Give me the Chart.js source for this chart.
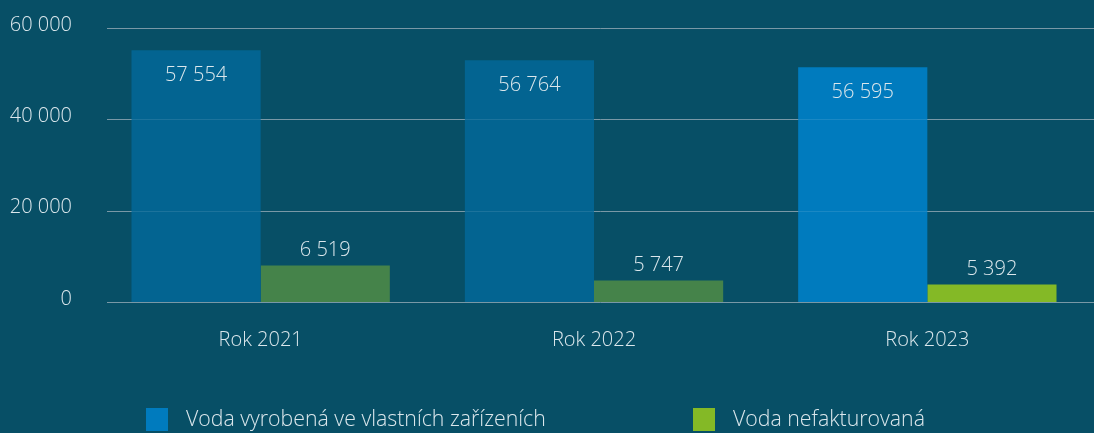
<!DOCTYPE html>
<html lang="cs">
<head>
<meta charset="utf-8">
<title>Voda</title>
<script src="https://cdn.jsdelivr.net/npm/chart.js@4"></script>
<style>
  html, body { margin: 0; padding: 0; background: #074f66; }
  #box { width: 1094px; height: 433px; }
</style>
</head>
<body>
<div id="box"><canvas id="grafico"></canvas></div>
<script>
// categories
var roky = ['Rok 2021', 'Rok 2022', 'Rok 2023'];
// bar heights as drawn in the picture
var vodaVyrobena = [55150, 52950, 51400];
var vodaNefakturovana = [8000, 4700, 3850];
// value labels printed on the bars
var popiskyVyrobena = ['57 554', '56 764', '56 595'];
var popiskyNefakturovana = ['6 519', '5 747', '5 392'];
// y tick values
var osaY = [0, 20000, 40000, 60000];

var nazvy = ['Voda vyrobená ve vlastních zařízeních', 'Voda nefakturovaná'];

var pismo = '"Open Sans", "DejaVu Sans", sans-serif';
var barvaTextu = '#dbe7ec';
var barvaMrizky = '#6a8d9c';

function cislo(v) {
	return String(v).replace(/\B(?=(\d{3})+(?!\d))/g, ' ');
}

// gridlines start a bit right of the plot area, as in the picture
function kresliMrizku(chart, barva) {
	var ctx = chart.ctx, y = chart.scales.y, a = chart.chartArea;
	ctx.save();
	ctx.strokeStyle = barva;
	ctx.lineWidth = 1;
	osaY.forEach(function(v) {
		var py = Math.round(y.getPixelForValue(v)) + 0.5;
		ctx.beginPath();
		ctx.moveTo(107, py);
		ctx.lineTo(a.right, py);
		ctx.stroke();
	});
	ctx.restore();
}

var mrizka = {
	id: 'mrizka',
	beforeDatasetsDraw: function(chart) { kresliMrizku(chart, barvaMrizky); },
	afterDatasetsDraw: function(chart) { kresliMrizku(chart, 'rgba(255,255,255,0.1)'); }
};

var popisky = {
	id: 'popisky',
	afterDatasetsDraw: function(chart) {
		var ctx = chart.ctx;
		ctx.save();
		ctx.font = '300 20px ' + pismo;
		ctx.fillStyle = barvaTextu;
		ctx.textAlign = 'center';
		ctx.textBaseline = 'middle';
		chart.getDatasetMeta(0).data.forEach(function(bar, i) {
			ctx.fillText(popiskyVyrobena[i], bar.x, bar.y + 25);
		});
		chart.getDatasetMeta(1).data.forEach(function(bar, i) {
			ctx.fillText(popiskyNefakturovana[i], bar.x, bar.y - 15);
		});
		ctx.restore();
	}
};

var legenda = {
	id: 'legenda',
	afterDraw: function(chart) {
		var ctx = chart.ctx;
		var pozice = [146, 693];
		ctx.save();
		ctx.font = '300 21.3px ' + pismo;
		ctx.textBaseline = 'middle';
		ctx.textAlign = 'left';
		chart.data.datasets.forEach(function(ds, i) {
			ctx.fillStyle = ds.backgroundColor[2];
			ctx.fillRect(pozice[i], 408, 22, 23);
			ctx.fillStyle = barvaTextu;
			ctx.fillText(ds.label, pozice[i] + 40, 420);
		});
		ctx.restore();
	}
};

var type = 'bar';

var data = {
	labels: roky,
	datasets: [
		{
			label: nazvy[0],
			data: vodaVyrobena,
			backgroundColor: ['#036491', '#036491', '#007bbe']
		},
		{
			label: nazvy[1],
			data: vodaNefakturovana,
			backgroundColor: ['#45834a', '#45834a', '#84b926']
		}
	]
};

var options = {
	responsive: true,
	maintainAspectRatio: false,
	animation: false,
	layout: { padding: { top: 28, left: 8, right: 0, bottom: 81 } },
	datasets: {
		bar: { categoryPercentage: 0.775, barPercentage: 1 }
	},
	plugins: {
		legend: { display: false },
		tooltip: { enabled: false }
	},
	scales: {
		x: {
			grid: { display: false, drawTicks: false },
			border: { display: false },
			ticks: {
				color: barvaTextu,
				font: { family: pismo, size: 20, weight: 300 },
				padding: 26
			},
			afterFit: function(s) { s.height = 50; }
		},
		y: {
			min: 0,
			max: 60000,
			grid: { display: false, drawTicks: false },
			border: { display: false },
			afterBuildTicks: function(s) {
				s.ticks = osaY.map(function(v) { return { value: v }; });
			},
			ticks: {
				color: barvaTextu,
				font: { family: pismo, size: 20, weight: 300 },
				padding: 22,
				labelOffset: -3,
				callback: function(v) { return cislo(v); }
			},
			afterFit: function(s) {
				s.width = 86;
				s.paddingTop = 0;
				s.paddingBottom = 0;
			}
		}
	}
};

var ctx = document.getElementById('grafico').getContext('2d');
new Chart(ctx, { type: type, data: data, options: options, plugins: [mrizka, popisky, legenda] });
</script>
</body>
</html>
